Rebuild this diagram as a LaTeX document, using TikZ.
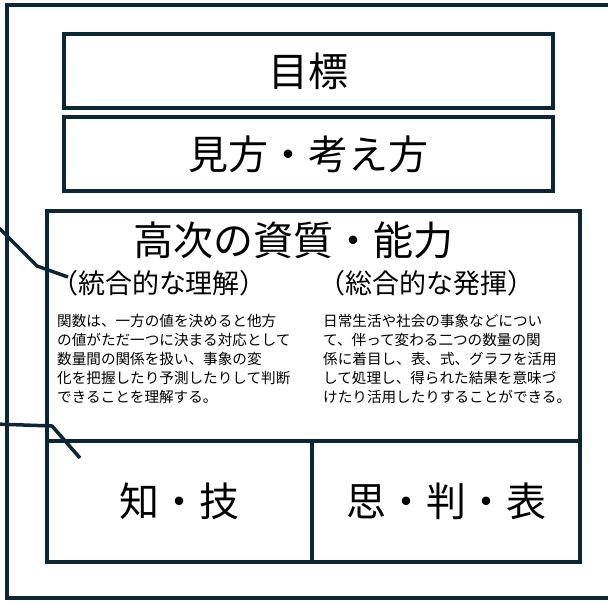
\documentclass[tikz,border=0pt]{standalone}
\usepackage{fontspec}
\setmainfont{Noto Sans CJK JP}
\definecolor{navy}{RGB}{12,38,54}
\begin{document}
\begin{tikzpicture}[x=1pt,y=-1pt,
    box/.style={draw=navy,line width=4pt,inner sep=0pt},
    big/.style={font=\fontsize{40}{47}\selectfont},
    sub/.style={font=\fontsize{27}{32}\selectfont},
    body/.style={font=\fontsize{14.6}{19}\selectfont,align=left,inner sep=0pt,anchor=north west},
    link/.style={draw=navy,line width=3.5pt}]
    
    \useasboundingbox (0,0) rectangle (608,600);
    \clip (0,0) rectangle (608,600);
    \draw[navy,line width=3.3pt] (7,5) rectangle (620,598);
    
    \node[box,minimum width=489pt,minimum height=74pt,big] (goal) at (308.5,71) {目標};
    \node[box,minimum width=489pt,minimum height=74pt,big] (view) at (308.5,154) {見方・考え方};
    
    \node[box,minimum width=533pt,minimum height=230pt] (upper) at (313.5,326) {};
    \node[box,minimum width=265pt,minimum height=121pt,big] (know) at (179.5,501.5) {知・技};
    \node[box,minimum width=268pt,minimum height=121pt,big] (think) at (446,501.5) {思・判・表};
    
    \node[big] (title) at (293,240) {高次の資質・能力};
    \node[sub] (left) at (159,283) {（統合的な理解）};
    \node[sub] (right) at (426,283) {（総合的な発揮）};
    \node[body] (lefttext) at (57,313.5) {関数は、一方の値を決めると他方\\の値がただ一つに決まる対応として\\数量間の関係を扱い、事象の変\\化を把握したり予測したりして判断\\できることを理解する。};
    \node[body] (righttext) at (323,313.5) {日常生活や社会の事象などについ\\て、伴って変わる二つの数量の関\\係に着目し、表、式、グラフを活用\\して処理し、得られた結果を意味づ\\けたり活用したりすることができる。};
    
    \coordinate (fromA) at (-5,224);
    \coordinate (bendA) at (37,266);
    \coordinate (endA) at (68,277);
    \coordinate (fromB) at (-5,424);
    \coordinate (bendB) at (52,426);
    \coordinate (endB) at (80,458);
    \draw[link] (fromA) -- (bendA) -- (endA);
    \draw[link] (fromB) -- (bendB) -- (endB);
    
\end{tikzpicture}
\end{document}
